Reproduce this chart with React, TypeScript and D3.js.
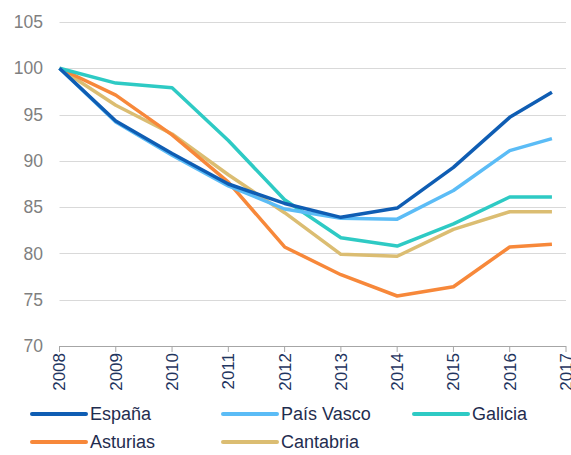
import React, { useEffect, useRef } from 'react';
import * as d3 from 'd3';

const years = [2008, 2009, 2010, 2011, 2012, 2013, 2014, 2015, 2016, 2016.75];
const tickYears = [2008, 2009, 2010, 2011, 2012, 2013, 2014, 2015, 2016, 2017];
const yTicks = [70, 75, 80, 85, 90, 95, 100, 105];

const espana = [100, 94.3, 90.8, 87.5, 85.4, 83.9, 84.9, 89.3, 94.7, 97.4];
const paisVasco = [100, 94.2, 90.6, 87.3, 84.8, 83.8, 83.7, 86.8, 91.1, 92.4];
const galicia = [100, 98.4, 97.9, 92.2, 85.8, 81.7, 80.8, 83.2, 86.1, 86.1];
const asturias = [100, 97.1, 92.8, 87.7, 80.7, 77.7, 75.4, 76.4, 80.7, 81.0];
const cantabria = [100, 96.0, 92.9, 88.5, 84.4, 79.9, 79.7, 82.6, 84.5, 84.5];

const seriesNames = ['España', 'País Vasco', 'Galicia', 'Asturias', 'Cantabria'];
const seriesValues = [espana, paisVasco, galicia, asturias, cantabria];
const colors = ['#0f5db3', '#5bbcf6', '#2ecac4', '#f7883a', '#dbbd72'];

// draw order: back to front
const drawOrder = [4, 3, 2, 1, 0];

export default function App() {
  const svgRef = useRef<SVGSVGElement>(null);
  const width = 571;
  const height = 455;
  const margin = { top: 22, right: 5, bottom: 109, left: 59.5 };

  useEffect(() => {
    if (!svgRef.current) return;
    const svg = d3.select(svgRef.current);
    svg.selectAll('*').remove();

    const innerW = width - margin.left - margin.right;
    const innerH = height - margin.top - margin.bottom;

    const x = d3.scaleLinear().domain([2008, 2017]).range([0, innerW]);
    const y = d3.scaleLinear().domain([70, 105]).range([innerH, 0]);

    const g = svg.append('g').attr('transform', `translate(${margin.left},${margin.top})`);

    // gridlines
    g.selectAll('line.grid')
      .data(yTicks.filter(t => t > 70))
      .enter()
      .append('line')
      .attr('x1', 0)
      .attr('x2', innerW)
      .attr('y1', d => Math.round(y(d)) + 0.5)
      .attr('y2', d => Math.round(y(d)) + 0.5)
      .attr('stroke', '#d9d9d9')
      .attr('stroke-width', 1);

    // y labels
    g.selectAll('text.ylab')
      .data(yTicks)
      .enter()
      .append('text')
      .attr('x', 43 - margin.left)
      .attr('y', d => y(d))
      .attr('dy', '0.35em')
      .attr('text-anchor', 'end')
      .attr('fill', '#7f7f7f')
      .style('font-family', 'Liberation Sans, Arial, sans-serif')
      .style('font-size', '17.5px')
      .text(d => d);

    // lines
    const line = d3.line<number>()
      .x((_, i) => x(years[i]))
      .y(d => y(d));

    drawOrder.forEach(si => {
      g.append('path')
        .datum(seriesValues[si])
        .attr('d', line)
        .attr('fill', 'none')
        .attr('stroke', colors[si])
        .attr('stroke-width', 3.5)
        .attr('stroke-linejoin', 'round');
    });

    // x axis
    const xAxis = g.append('g').attr('transform', `translate(0,${innerH})`);
    xAxis.append('line')
      .attr('x1', 0).attr('x2', innerW)
      .attr('y1', 0.5).attr('y2', 0.5)
      .attr('stroke', '#a6a6a6');
    xAxis.selectAll('line.tick')
      .data(tickYears)
      .enter()
      .append('line')
      .attr('x1', d => x(d)).attr('x2', d => x(d))
      .attr('y1', 0).attr('y2', 6)
      .attr('stroke', '#a6a6a6');
    xAxis.selectAll('text')
      .data(tickYears)
      .enter()
      .append('text')
      .attr('transform', d => `translate(${x(d)},7) rotate(-90)`)
      .attr('text-anchor', 'end')
      .attr('dy', '0.35em')
      .attr('fill', '#1f3560')
      .style('font-family', 'Liberation Sans, Arial, sans-serif')
      .style('font-size', '17px')
      .text(d => d);

    // legend
    const legendPos = [
      { x: 32, y: 414 },
      { x: 223, y: 414 },
      { x: 414, y: 414 },
      { x: 32, y: 442 },
      { x: 223, y: 442 },
    ];
    const legend = svg.append('g');
    seriesNames.forEach((name, i) => {
      const p = legendPos[i];
      legend.append('line')
        .attr('x1', p.x).attr('x2', p.x + 54)
        .attr('y1', p.y).attr('y2', p.y)
        .attr('stroke', colors[i])
        .attr('stroke-width', 4)
        .attr('stroke-linecap', 'round');
      legend.append('text')
        .attr('x', p.x + 58)
        .attr('y', p.y)
        .attr('dy', '0.35em')
        .attr('fill', '#1f2d4f')
        .style('font-family', 'Liberation Sans, Arial, sans-serif')
        .style('font-size', '18px')
        .text(name);
    });
  }, []);

  return (
    <svg
      ref={svgRef}
      width={width}
      height={height}
      style={{ position: 'absolute', left: 0, top: 0, background: '#fff' }}
    />
  );
}
